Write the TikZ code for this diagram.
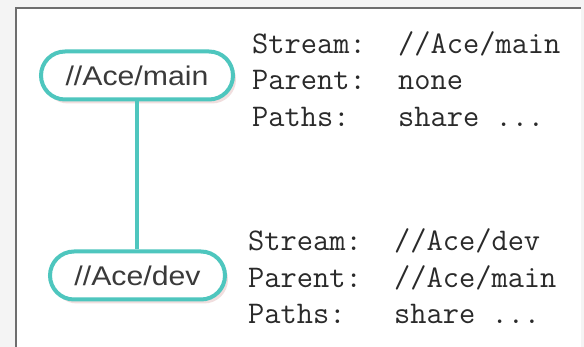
\documentclass[tikz,border=0pt]{standalone}
\usepackage{fontspec}
\usetikzlibrary{shadows}
\newfontfamily\nodesans[FakeStretch=1.12]{Liberation Sans}
\definecolor{teal1}{HTML}{4EC6BE}
\definecolor{nodetext}{HTML}{3A3A3A}
\definecolor{codetext}{HTML}{2A2A2A}
\definecolor{outerbg}{HTML}{F4F4F4}
\definecolor{framecol}{HTML}{6E6E6E}
\tikzset{
  stream/.style={draw=teal1, line width=4pt, fill=white, rounded corners=24pt,
    minimum height=48pt, inner sep=0pt, text=nodetext,
    font=\nodesans\fontsize{27}{30}\selectfont,
    drop shadow={shadow xshift=3pt, shadow yshift=-4pt, opacity=0.18, fill=red!40!gray}},
  link/.style={draw=teal1, line width=4pt},
  info/.style={anchor=base west, align=left, inner sep=0pt, text=codetext,
    font=\ttfamily\fontsize{31.5}{36.5}\selectfont}
}
\begin{document}
\begin{tikzpicture}[x=1pt,y=-1pt]
  \useasboundingbox (0,0) rectangle (584,347);
  \fill[outerbg] (0,0) rectangle (584,347);
  \fill[white] (16,8) rectangle (581,347);
  \draw[framecol, line width=1.5pt] (16,347) -- (16,8) -- (581,8);

  \node[stream, minimum width=192pt] (main) at (137,75.5) {//Ace/main};
  \node[stream, minimum width=175pt] (dev) at (137.5,275.5) {//Ace/dev};
  \draw[link] (main.south) -- (main.south |- dev.north);

  % anchor base west of a multi-line node sits on the last line's baseline
  \node[info] (maininfo) at (252,126.5) {Stream:\ \ //Ace/main\\Parent:\ \ none\\Paths:\ \ \ share ...};
  \node[info] (devinfo) at (248,324) {Stream:\ \ //Ace/dev\\Parent:\ \ //Ace/main\\Paths:\ \ \ share ...};
\end{tikzpicture}
\end{document}
